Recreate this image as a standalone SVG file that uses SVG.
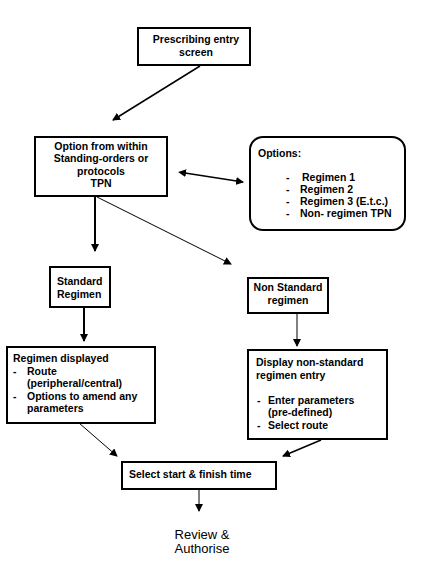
<svg xmlns="http://www.w3.org/2000/svg" width="425" height="561" viewBox="0 0 425 561">
<defs>
<marker id="ah" markerWidth="8" markerHeight="8" refX="7" refY="4" orient="auto" markerUnits="userSpaceOnUse">
<path d="M0,0 L8,4 L0,8 z" fill="#000"/>
</marker>
<marker id="ahs" markerWidth="8" markerHeight="8" refX="1" refY="4" orient="auto-start-reverse" markerUnits="userSpaceOnUse">
<path d="M0,0 L8,4 L0,8 z" fill="#000"/>
</marker>
<style>
.box{fill:#fff;stroke:#000;stroke-width:2}
.t{font-family:"Liberation Sans",Arial,sans-serif;font-size:10.5px;font-weight:bold;fill:#000}
.c{text-anchor:middle}
.n{font-family:"Liberation Sans",Arial,sans-serif;font-size:13px;fill:#000;text-anchor:middle}
.l{stroke:#000;fill:none}
</style>
</defs>
<rect width="425" height="561" fill="#fff"/>
<g id="connectors">
<line class="l" x1="200" y1="66" x2="113" y2="120" stroke-width="1.5" marker-end="url(#ah)"/>
<line class="l" x1="185" y1="173" x2="243" y2="182" stroke-width="1.5" marker-start="url(#ahs)" marker-end="url(#ah)"/>
<line class="l" x1="95" y1="197" x2="95" y2="251" stroke-width="2" marker-end="url(#ah)"/>
<line class="l" x1="97" y1="197" x2="231" y2="264" stroke-width="1" marker-end="url(#ah)"/>
<line class="l" x1="84" y1="308" x2="84" y2="341" stroke-width="2" marker-end="url(#ah)"/>
<line class="l" x1="297" y1="314" x2="297" y2="346" stroke-width="1" marker-end="url(#ah)"/>
<line class="l" x1="79" y1="423" x2="117" y2="456" stroke-width="1" marker-end="url(#ah)"/>
<line class="l" x1="321" y1="440" x2="283" y2="456" stroke-width="1.5" marker-end="url(#ah)"/>
<line class="l" x1="199" y1="490" x2="199" y2="511" stroke-width="1" marker-end="url(#ah)"/>
</g>
<g id="prescribing">
<rect class="box" x="138" y="28" width="112" height="37"/>
<text class="t c" x="196" y="43">Prescribing entry</text>
<text class="t c" x="196" y="56">screen</text>
</g>
<g id="option">
<rect class="box" x="35" y="137" width="132" height="59"/>
<text class="t c" x="101" y="150">Option from within</text>
<text class="t c" x="101" y="162">Standing-orders or</text>
<text class="t c" x="101" y="175">protocols</text>
<text class="t c" x="101" y="187">TPN</text>
</g>
<g id="options">
<rect class="box" x="250" y="137" width="155" height="93" rx="13"/>
<text class="t" x="258" y="157">Options:</text>
<text class="t" x="286" y="181">-</text><text class="t" x="302" y="181">Regimen 1</text>
<text class="t" x="286" y="193">-</text><text class="t" x="300" y="193">Regimen 2</text>
<text class="t" x="286" y="205">-</text><text class="t" x="300" y="205">Regimen 3 (E.t.c.)</text>
<text class="t" x="286" y="217">-</text><text class="t" x="300" y="217">Non- regimen TPN</text>
</g>
<g id="standard">
<rect class="box" x="50" y="267" width="60" height="40"/>
<text class="t" x="57" y="285">Standard</text>
<text class="t" x="57" y="298">Regimen</text>
</g>
<g id="nonstandard">
<rect class="box" x="248" y="278" width="80" height="35"/>
<text class="t c" x="288" y="291">Non Standard</text>
<text class="t c" x="288" y="304">regimen</text>
</g>
<g id="displayed">
<rect class="box" x="7" y="347" width="148" height="76"/>
<text class="t" x="13" y="362">Regimen displayed</text>
<text class="t" x="13" y="375">-</text><text class="t" x="27" y="375">Route</text>
<text class="t" x="27" y="387">(peripheral/central)</text>
<text class="t" x="13" y="400">-</text><text class="t" x="27" y="400">Options to amend any</text>
<text class="t" x="27" y="412">parameters</text>
</g>
<g id="display-nonstandard">
<rect class="box" x="248" y="350" width="139" height="89"/>
<text class="t" x="256" y="366">Display non-standard</text>
<text class="t" x="256" y="379">regimen entry</text>
<text class="t" x="257" y="404">-</text><text class="t" x="268" y="404">Enter parameters</text>
<text class="t" x="268" y="416">(pre-defined)</text>
<text class="t" x="257" y="429">-</text><text class="t" x="268" y="429">Select route</text>
</g>
<g id="select">
<rect class="box" x="122" y="462" width="154" height="27"/>
<text class="t" x="129" y="478">Select start &amp; finish time</text>
</g>
<g id="review">
<text class="n" x="202" y="539">Review &amp;</text>
<text class="n" x="202" y="553">Authorise</text>
</g>
</svg>
